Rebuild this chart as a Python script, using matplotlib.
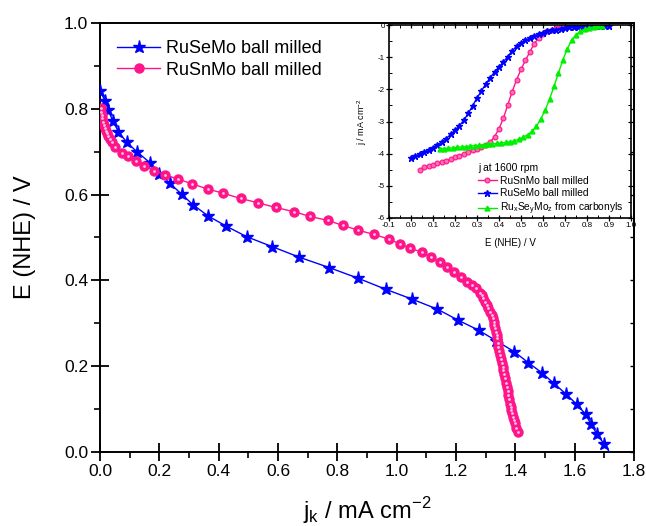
import numpy as np
import matplotlib
matplotlib.use("Agg")
from matplotlib import pyplot as plt
from matplotlib.ticker import MultipleLocator

plt.rcParams['font.family'] = ['Liberation Sans', 'DejaVu Sans']
plt.rcParams['axes.unicode_minus'] = False

# main plot: kinetic current vs potential
jk_se = [0.0, 0.017, 0.028, 0.043, 0.062, 0.090, 0.126, 0.169, 0.200, 0.236, 0.275, 0.314,
         0.365, 0.424, 0.494, 0.579, 0.672, 0.772, 0.870, 0.964, 1.053, 1.137, 1.208, 1.276,
         1.336, 1.396, 1.444, 1.489, 1.530, 1.571, 1.607, 1.637, 1.655, 1.676, 1.700, 1.724]
E_se = [0.842, 0.819, 0.797, 0.772, 0.747, 0.722, 0.699, 0.674, 0.649, 0.626, 0.601, 0.576,
        0.550, 0.527, 0.502, 0.479, 0.454, 0.430, 0.405, 0.379, 0.356, 0.333, 0.307, 0.284,
        0.259, 0.234, 0.208, 0.185, 0.160, 0.135, 0.111, 0.088, 0.065, 0.041, 0.018, -0.007]

jk_sn = [0.002, 0.004, 0.006, 0.008, 0.010, 0.013, 0.016, 0.020, 0.024, 0.028, 0.033, 0.040,
         0.051, 0.073, 0.095, 0.120, 0.148, 0.182, 0.219, 0.264, 0.311, 0.363, 0.416, 0.474,
         0.532, 0.592, 0.655, 0.708, 0.767, 0.819, 0.871, 0.924, 0.975, 1.011, 1.045, 1.084,
         1.116, 1.146, 1.168, 1.193, 1.216, 1.236, 1.253, 1.268, 1.281, 1.287, 1.292, 1.298,
         1.303, 1.309, 1.315, 1.320, 1.324, 1.327, 1.329, 1.332, 1.335, 1.337, 1.339, 1.341,
         1.343, 1.346, 1.348, 1.351, 1.354, 1.357, 1.359, 1.362, 1.365, 1.368, 1.371, 1.374,
         1.376, 1.379, 1.382, 1.385, 1.387, 1.390, 1.393, 1.396, 1.399, 1.403, 1.408]
E_sn = [0.801, 0.793, 0.786, 0.778, 0.770, 0.763, 0.756, 0.749, 0.743, 0.736, 0.729, 0.722,
        0.710, 0.698, 0.689, 0.678, 0.667, 0.656, 0.646, 0.636, 0.625, 0.613, 0.603, 0.591,
        0.581, 0.570, 0.560, 0.549, 0.540, 0.528, 0.517, 0.507, 0.496, 0.485, 0.475, 0.466,
        0.454, 0.443, 0.432, 0.420, 0.409, 0.397, 0.389, 0.382, 0.371, 0.365, 0.358, 0.350,
        0.343, 0.335, 0.327, 0.320, 0.312, 0.304, 0.296, 0.288, 0.280, 0.273, 0.265, 0.255,
        0.245, 0.236, 0.226, 0.217, 0.207, 0.199, 0.191, 0.181, 0.172, 0.162, 0.152, 0.143,
        0.133, 0.123, 0.113, 0.105, 0.098, 0.090, 0.082, 0.075, 0.067, 0.057, 0.047]

# inset: polarisation curves at 1600 rpm
Ei_se = [0.00, 0.02, 0.04, 0.06, 0.08, 0.10, 0.12, 0.14, 0.16, 0.18, 0.20, 0.22, 0.24, 0.26,
         0.28, 0.30, 0.32, 0.34, 0.36, 0.38, 0.40, 0.42, 0.44, 0.46, 0.48, 0.50, 0.52, 0.54,
         0.56, 0.58, 0.60, 0.62, 0.64, 0.66, 0.68, 0.70, 0.72, 0.74, 0.76, 0.78, 0.80, 0.82,
         0.84, 0.86, 0.88, 0.90]
ji_se = [-4.15, -4.08, -4.01, -3.95, -3.88, -3.81, -3.73, -3.64, -3.53, -3.40, -3.27, -3.13,
         -2.96, -2.75, -2.51, -2.27, -2.05, -1.83, -1.64, -1.46, -1.30, -1.15, -0.98, -0.80,
         -0.66, -0.56, -0.48, -0.41, -0.34, -0.29, -0.24, -0.20, -0.17, -0.14, -0.11, -0.09,
         -0.07, -0.06, -0.05, -0.04, -0.03, -0.03, -0.02, -0.02, -0.02, -0.02]

Ei_sn = [0.04, 0.06, 0.08, 0.10, 0.12, 0.14, 0.16, 0.18, 0.20, 0.22, 0.24, 0.26, 0.28, 0.30,
         0.32, 0.34, 0.36, 0.38, 0.40, 0.42, 0.44, 0.46, 0.48, 0.50, 0.52, 0.54, 0.56, 0.58,
         0.60, 0.62, 0.64, 0.66, 0.68, 0.70, 0.72, 0.74, 0.76, 0.78]
ji_sn = [-4.50, -4.43, -4.38, -4.34, -4.30, -4.27, -4.22, -4.17, -4.11, -4.06, -4.00, -3.95,
         -3.90, -3.85, -3.80, -3.74, -3.64, -3.47, -3.22, -2.90, -2.48, -2.07, -1.70, -1.38,
         -1.10, -0.84, -0.58, -0.41, -0.29, -0.20, -0.14, -0.09, -0.06, -0.04, -0.03, -0.02,
         -0.02, -0.02]

Ei_co = [0.13, 0.15, 0.17, 0.19, 0.21, 0.23, 0.25, 0.27, 0.29, 0.31, 0.33, 0.35, 0.37, 0.39,
         0.41, 0.43, 0.45, 0.47, 0.49, 0.51, 0.53, 0.55, 0.57, 0.59, 0.61, 0.63, 0.65, 0.67,
         0.69, 0.71, 0.73, 0.75, 0.77, 0.79, 0.81, 0.83, 0.85, 0.87]
ji_co = [-3.85, -3.84, -3.83, -3.82, -3.80, -3.79, -3.78, -3.76, -3.75, -3.74, -3.72, -3.71,
         -3.70, -3.68, -3.67, -3.65, -3.63, -3.60, -3.55, -3.49, -3.41, -3.31, -3.15, -2.92,
         -2.65, -2.30, -1.91, -1.50, -1.09, -0.75, -0.47, -0.30, -0.20, -0.13, -0.09, -0.06,
         -0.04, -0.02]

BLUE = '#0000FF'
PINK = '#FF1489'
GREEN = '#00F000'

fig = plt.figure(figsize=(6.46, 5.26), dpi=100)
ax = fig.add_axes([100/646, 1-452/526, 534/646, 429/526])

ax.plot(jk_se, E_se, color=BLUE, lw=1, marker='*', ms=9.5, mec=BLUE, mfc=BLUE,
        markevery=list(range(len(jk_se)-1)), label='RuSeMo ball milled', zorder=3)
ax.plot(jk_sn, E_sn, color=PINK, lw=1, marker='o', ms=6.5, mec=PINK, mfc=PINK,
        label='RuSnMo ball milled', zorder=4)
ax.plot(jk_sn, E_sn, ls='none', marker='o', ms=2, mec='none', mfc='#FFC6E2', zorder=5)

ax.set_xlim(0, 1.8)
ax.set_ylim(0, 1.0)
ax.xaxis.set_major_locator(MultipleLocator(0.2))
ax.xaxis.set_minor_locator(MultipleLocator(0.1))
ax.yaxis.set_major_locator(MultipleLocator(0.2))
ax.yaxis.set_minor_locator(MultipleLocator(0.1))
ax.xaxis.set_major_formatter(matplotlib.ticker.FormatStrFormatter('%.1f'))
ax.yaxis.set_major_formatter(matplotlib.ticker.FormatStrFormatter('%.1f'))
ax.tick_params(which='major', direction='inout', length=13, width=1.3, labelsize=12.5, pad=2)
ax.tick_params(which='minor', direction='out', length=4, width=1.2)
ax.tick_params(which='both', top=False, right=False)
for s in ax.spines.values():
    s.set_linewidth(1.4)

# short inward ticks on right spine
axr = ax.secondary_yaxis('right')
axr.yaxis.set_major_locator(MultipleLocator(0.1))
axr.tick_params(direction='in', length=3, width=1, labelright=False)
axr.spines['right'].set_linewidth(1.4)

ax.set_xlabel(r'j$_\mathregular{k}$ / mA cm$^\mathregular{-2}$', fontsize=17, labelpad=12)
ax.set_ylabel('E (NHE) / V', fontsize=17, labelpad=20)

leg = ax.legend(loc='upper left', bbox_to_anchor=(108/646, 1-31/526),
                bbox_transform=fig.transFigure, frameon=False, fontsize=13,
                handlelength=2.4, handletextpad=0.3, labelspacing=0.25, borderpad=0)

# inset
ins = fig.add_axes([389/646, 1-218/526, 242/646, 193/526])
ins.set_facecolor('white')
ins.plot(Ei_sn, ji_sn, color=PINK, lw=1, marker='o', ms=3.5, mec=PINK, mfc='#FF6FB5',
         mew=0.8, label='RuSnMo ball milled')
ins.plot(Ei_se, ji_se, color=BLUE, lw=1, marker='*', ms=4.5, mec=BLUE, mfc=BLUE,
         label='RuSeMo ball milled')
ins.plot(Ei_co, ji_co, color=GREEN, lw=1, marker='^', ms=3.5, mec=GREEN, mfc=GREEN,
         label=r'Ru$_\mathregular{x}$Se$_\mathregular{y}$Mo$_\mathregular{z}$ from carbonyls')
ins.set_xlim(-0.1, 1.0)
ins.set_ylim(-6, 0)
ins.xaxis.set_major_locator(MultipleLocator(0.1))
ins.xaxis.set_minor_locator(MultipleLocator(0.05))
ins.yaxis.set_major_locator(MultipleLocator(1))
ins.yaxis.set_minor_locator(MultipleLocator(0.5))
ins.xaxis.set_major_formatter(matplotlib.ticker.FormatStrFormatter('%.1f'))
ins.yaxis.set_major_formatter(matplotlib.ticker.FormatStrFormatter('%d'))
ins.tick_params(which='major', direction='inout', length=4, width=0.9, labelsize=5.8, pad=1,
                top=True, right=True)
ins.tick_params(which='minor', direction='in', length=2, width=0.7, top=True, right=True)
for s in ins.spines.values():
    s.set_linewidth(1.2)
ins.set_xlabel('E (NHE) / V', fontsize=7, labelpad=6)
ins.set_ylabel(r'j / mA cm$^\mathregular{-2}$', fontsize=6.5, labelpad=6)

ileg = ins.legend(loc='upper left', bbox_to_anchor=(473/646, 1-158/526),
                  bbox_transform=fig.transFigure, frameon=False, fontsize=7.4,
                  title='j at 1600 rpm', title_fontsize=7.4, alignment='left',
                  handlelength=1.8, handletextpad=0.3, labelspacing=0.25, borderpad=0)

fig.savefig('out.png', dpi=100)
